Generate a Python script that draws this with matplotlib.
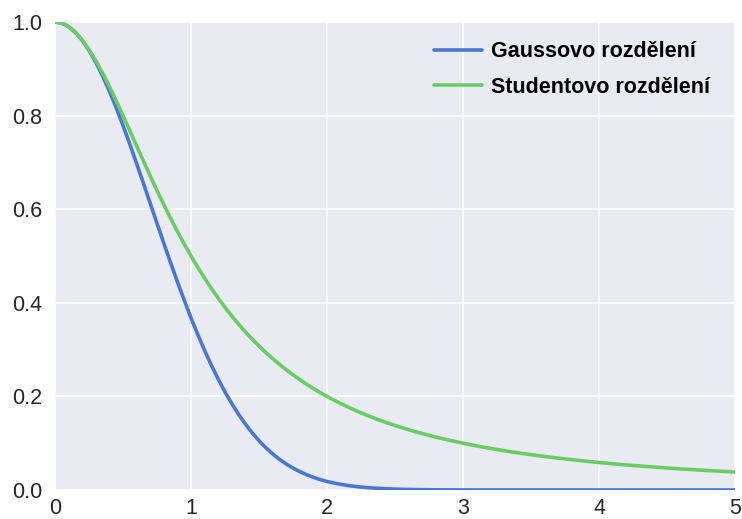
import matplotlib
matplotlib.use("Agg")
import matplotlib.pyplot as plt

# Sample positions: step 0.05 on [0, 3], step 0.1 on (3, 5]
x_values = [i / 20 for i in range(61)] + [3 + i / 10 for i in range(1, 21)]

gauss_values = [
    1.0000, 0.9975, 0.9900, 0.9778, 0.9608, 0.9394, 0.9139, 0.8847, 0.8521, 0.8167,
    0.7788, 0.7390, 0.6977, 0.6554, 0.6126, 0.5698, 0.5273, 0.4855, 0.4449, 0.4056,
    0.3679, 0.3320, 0.2982, 0.2665, 0.2369, 0.2096, 0.1845, 0.1616, 0.1409, 0.1221,
    0.1054, 0.0905, 0.0773, 0.0657, 0.0556, 0.0468, 0.0392, 0.0326, 0.0271, 0.0223,
    0.0183, 0.0150, 0.0122, 0.0098, 0.0079, 0.0063, 0.0050, 0.0040, 0.0032, 0.0025,
    0.0019, 0.0015, 0.0012, 0.0009, 0.0007, 0.0005, 0.0004, 0.0003, 0.0002, 0.0002,
    0.0001,
    0.0000, 0.0000, 0.0000, 0.0000, 0.0000, 0.0000, 0.0000, 0.0000, 0.0000, 0.0000,
    0.0000, 0.0000, 0.0000, 0.0000, 0.0000, 0.0000, 0.0000, 0.0000, 0.0000, 0.0000,
]
student_values = [
    1.0000, 0.9975, 0.9901, 0.9780, 0.9615, 0.9412, 0.9174, 0.8909, 0.8621, 0.8316,
    0.8000, 0.7678, 0.7353, 0.7030, 0.6711, 0.6400, 0.6098, 0.5806, 0.5525, 0.5256,
    0.5000, 0.4756, 0.4525, 0.4306, 0.4098, 0.3902, 0.3717, 0.3543, 0.3378, 0.3223,
    0.3077, 0.2939, 0.2809, 0.2686, 0.2571, 0.2462, 0.2358, 0.2261, 0.2169, 0.2082,
    0.2000, 0.1922, 0.1848, 0.1779, 0.1712, 0.1649, 0.1590, 0.1533, 0.1479, 0.1428,
    0.1379, 0.1333, 0.1289, 0.1246, 0.1206, 0.1168, 0.1131, 0.1096, 0.1063, 0.1031,
    0.1000,
    0.0943, 0.0890, 0.0841, 0.0796, 0.0755, 0.0716, 0.0680, 0.0648, 0.0617, 0.0588,
    0.0561, 0.0536, 0.0513, 0.0491, 0.0471, 0.0451, 0.0433, 0.0416, 0.0400, 0.0385,
]
series_labels = ["Gaussovo rozdělení", "Studentovo rozdělení"]
x_ticks = [0, 1, 2, 3, 4, 5]
y_ticks = [0.0, 0.2, 0.4, 0.6, 0.8, 1.0]

plt.rcParams["font.family"] = ["Liberation Sans", "DejaVu Sans"]

fig = plt.figure(figsize=(7.42, 5.19), dpi=100)
ax = fig.add_axes([55 / 742, 1 - 490 / 519, 680 / 742, 468 / 519])
ax.set_facecolor("#EAEAF2")
for s in ax.spines.values():
    s.set_visible(False)

ax.plot(x_values, gauss_values, color="#4878CF", lw=2.6, label=series_labels[0],
        solid_capstyle="round", solid_joinstyle="round")
ax.plot(x_values, student_values, color="#6ACC65", lw=2.6, label=series_labels[1],
        solid_capstyle="round", solid_joinstyle="round")

ax.set_xlim(0, 5)
ax.set_ylim(0, 1)
ax.set_xticks(x_ticks)
ax.set_yticks(y_ticks)
ax.set_xticklabels([str(t) for t in x_ticks])
ax.set_yticklabels([f"{t:.1f}" for t in y_ticks])
ax.tick_params(length=0, labelsize=15.5, labelcolor="#262626", pad=9)
ax.tick_params(axis="x", pad=6)
ax.grid(True, color="white", lw=1.2)
ax.set_axisbelow(True)

leg = ax.legend(loc="upper right", bbox_to_anchor=(1.0, 1.012), frameon=False,
                prop={"weight": "bold", "size": 15.5}, handlelength=2.2,
                handletextpad=0.45, borderaxespad=0.75, labelspacing=0.68)

fig.savefig("out.png", dpi=100)
